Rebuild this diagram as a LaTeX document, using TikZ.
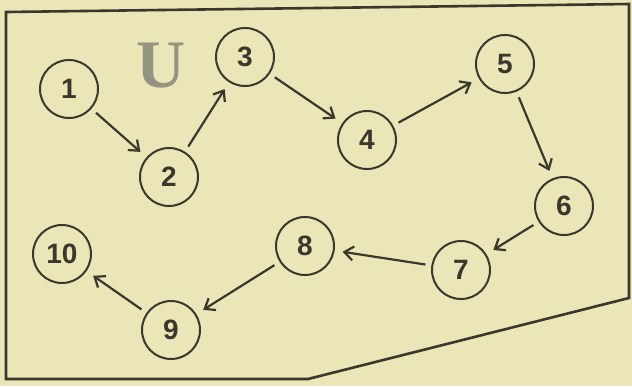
\documentclass[tikz,border=0pt]{standalone}
\usepackage{fontspec}
\setmainfont{Liberation Sans}
\newfontfamily\stampfont{Liberation Serif}
\usetikzlibrary{arrows.meta}
\definecolor{paper}{RGB}{235,230,184}
\definecolor{ink}{RGB}{58,56,44}
\definecolor{stampgray}{RGB}{140,138,124}
\tikzset{
  stage/.style={circle, draw=ink, line width=2pt, minimum size=58pt, inner sep=0pt,
    text=ink, font=\fontsize{28}{28}\selectfont\bfseries},
  flow/.style={draw=ink, line width=2.2pt, shorten <=6pt, shorten >=8pt,
    -{Straight Barb[length=9pt,width=14pt,line width=2.2pt]}},
  frame/.style={draw=ink, line width=2.6pt, line join=miter}
}
\begin{document}
\begin{tikzpicture}[x=1pt,y=-1pt]
\fill[paper] (0,0) rectangle (632,386);
\useasboundingbox (0,0) rectangle (632,386);
% outer frame
\coordinate (f1) at (6,12);
\coordinate (f2) at (629,4);
\coordinate (f3) at (629,298);
\coordinate (f4) at (308,379);
\coordinate (f5) at (6,379);
\draw[frame] (f1) -- (f2) -- (f3) -- (f4) -- (f5) -- cycle;
% faint stamp
\node[text=stampgray, opacity=0.9, font=\fontsize{68}{68}\selectfont\stampfont\bfseries] (stamp) at (161,66) {U};
% stages
\node[stage] (n1) at (69,89) {1};
\node[stage] (n2) at (169,177) {2};
\node[stage] (n3) at (245,57) {3};
\node[stage] (n4) at (367,140) {4};
\node[stage] (n5) at (505,64) {5};
\node[stage] (n6) at (564,206) {6};
\node[stage] (n7) at (461,270) {7};
\node[stage] (n8) at (305,246) {8};
\node[stage] (n9) at (171,330) {9};
\node[stage] (n10) at (62,254) {10};
% connectors
\draw[flow] (n1) -- (n2);
\draw[flow] (n2) -- (n3);
\draw[flow] (n3) -- (n4);
\draw[flow] (n4) -- (n5);
\draw[flow] (n5) -- (n6);
\draw[flow] (n6) -- (n7);
\draw[flow] (n7) -- (n8);
\draw[flow] (n8) -- (n9);
\draw[flow] (n9) -- (n10);
\end{tikzpicture}
\end{document}
